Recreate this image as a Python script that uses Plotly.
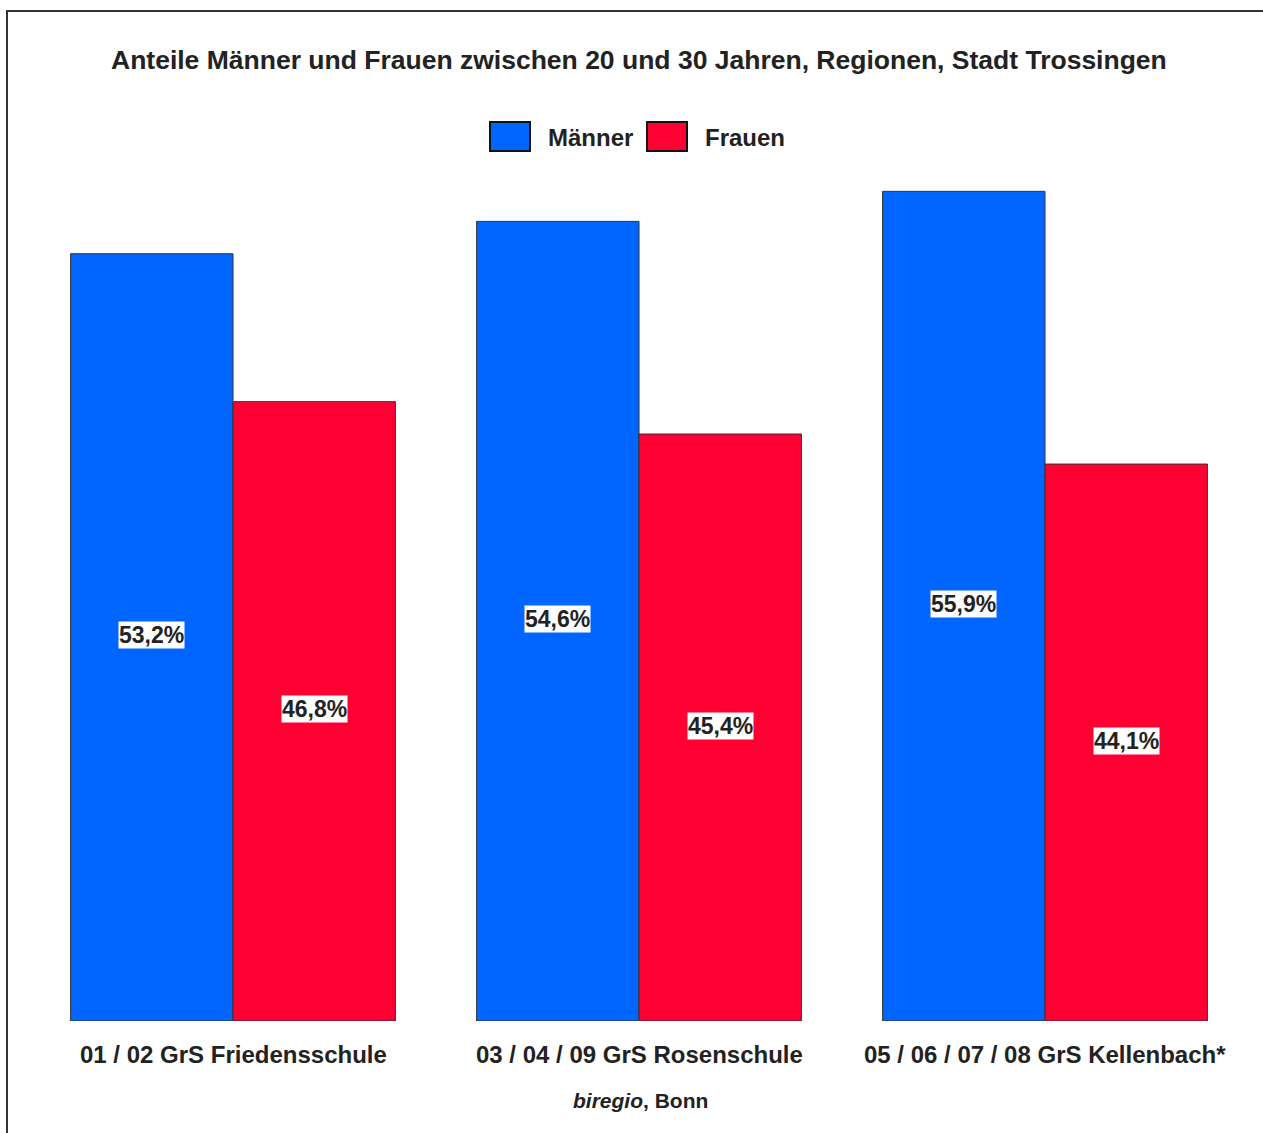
import plotly.graph_objects as go

# Regionen und Anteile (in %) der 20- bis 30-Jährigen
regionen = ["01 / 02 GrS Friedensschule", "03 / 04 / 09 GrS Rosenschule", "05 / 06 / 07 / 08 GrS Kellenbach*"]
maenner = [53.2, 54.6, 55.9]
frauen = [46.8, 45.4, 44.1]
serien = ["Männer", "Frauen"]
farben = ["#0066FF", "#FF0033"]

W, H = 1263, 1133
ML, MR, MT, MB = 30, 15, 159, 112
Y0, Y1 = 20, 57.3
PW, PH = W - ML - MR, H - MT - MB
FONT = "Liberation Sans, Arial, sans-serif"
TXT = "#222222"


def px(x):
    return (x - ML) / PW


def py(y):
    return (H - MB - y) / PH


def fmt(v):
    return f"{v:.1f}".replace(".", ",") + "%"


fig = go.Figure()
for name, vals, col in zip(serien, [maenner, frauen], farben):
    fig.add_trace(go.Bar(
        x=regionen, y=[v - Y0 for v in vals], base=Y0, name=name,
        marker=dict(color=col, line=dict(color="#333333", width=1)),
        showlegend=False, hoverinfo="skip",
    ))

# Wertbeschriftungen mit weißem Hintergrund, mittig im Balken
bar_off = PW / 3 * 0.8 / 4
for i, reg in enumerate(regionen):
    for vals, sh in [(maenner, -bar_off), (frauen, bar_off)]:
        fig.add_annotation(
            x=reg, y=(Y0 + vals[i]) / 2, xshift=sh, yshift=2, text=f"<b>{fmt(vals[i])}</b>",
            showarrow=False, bgcolor="white", borderpad=0,
            font=dict(family=FONT, size=23, color=TXT),
        )

# Kategorienbeschriftungen unter den Balkengruppen
for reg in regionen:
    fig.add_annotation(x=reg, y=py(1054), yref="paper", xanchor="center", yanchor="middle",
                       showarrow=False, text=f"<b>{reg}</b>",
                       font=dict(family=FONT, size=24, color=TXT))

# Legende als Kästchen und Text
legend_items = [(490, 546, "Männer", farben[0]), (647, 703, "Frauen", farben[1])]
for bx, tx, label, col in legend_items:
    fig.add_shape(type="rect", xref="paper", yref="paper",
                  x0=px(bx), x1=px(bx + 40), y0=py(151), y1=py(122),
                  fillcolor=col, line=dict(color="#111111", width=2))
    fig.add_annotation(xref="paper", yref="paper", x=px(tx), y=py(137),
                       xanchor="left", yanchor="middle", showarrow=False,
                       text=f"<b>{label}</b>", font=dict(family=FONT, size=24, color=TXT))

# Titel
fig.add_annotation(xref="paper", yref="paper", x=px(639), y=py(60),
                   xanchor="center", yanchor="middle", showarrow=False,
                   text="<b>Anteile Männer und Frauen zwischen 20 und 30 Jahren, Regionen, Stadt Trossingen</b>",
                   font=dict(family=FONT, size=26.5, color=TXT))

# Quelle
fig.add_annotation(xref="paper", yref="paper", x=px(640), y=py(1100),
                   xanchor="center", yanchor="middle", showarrow=False,
                   text="<i>biregio</i>, Bonn",
                   font=dict(family=FONT, size=21, color=TXT, weight="bold"))

# Rahmen
fig.add_shape(type="rect", xref="paper", yref="paper",
              x0=px(7), x1=px(1290), y0=py(1160), y1=py(11),
              line=dict(color="#333333", width=2), fillcolor="rgba(0,0,0,0)", layer="below")

fig.update_layout(
    width=W, height=H,
    margin=dict(l=ML, r=MR, t=MT, b=MB),
    barmode="group", bargap=0.2, bargroupgap=0,
    plot_bgcolor="white", paper_bgcolor="white",
    xaxis=dict(showgrid=False, showline=False, ticks="", range=[-0.5, 2.5],
               showticklabels=False),
    yaxis=dict(range=[Y0, Y1], visible=False),
)

fig.write_html("out.html")
